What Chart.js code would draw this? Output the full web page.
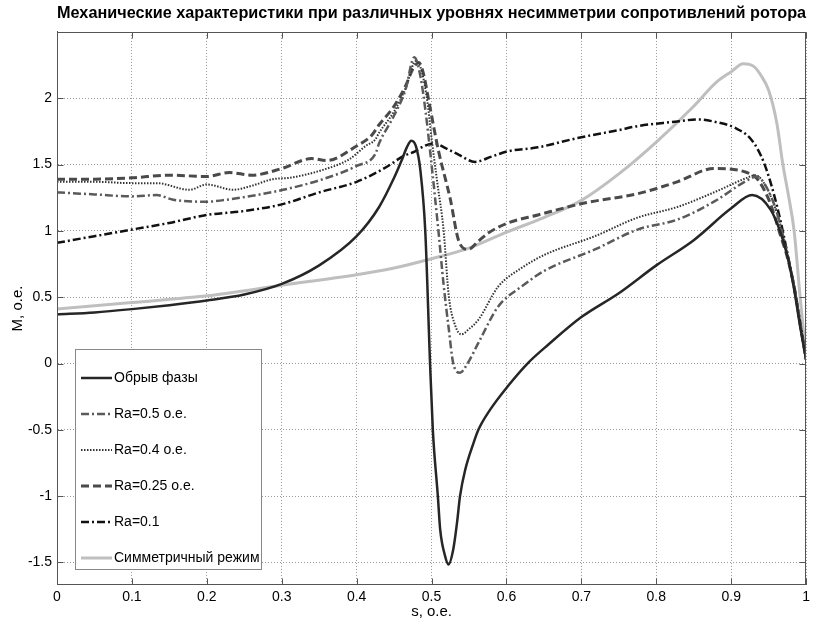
<!DOCTYPE html>
<html><head><meta charset="utf-8">
<script src="https://cdn.jsdelivr.net/npm/chart.js@4.4.0/dist/chart.umd.min.js"></script>
<style>html,body{margin:0;padding:0;background:#fff;}canvas{display:block;}</style>
</head><body>
<canvas id="c" width="814" height="621"></canvas>
<script>
// ---- data (s, o.e. -> M, o.e.) ----
const sBreak = [0,0.05,0.1,0.15,0.2,0.25,0.3,0.35,0.4,0.43,0.45,0.46,0.467,0.473,0.479,0.485,0.4916,0.498,0.5017,0.5084,0.5115,0.518,0.5226,0.529,0.534,0.538,0.545,0.556,0.5625,0.578,0.602,0.629,0.656,0.7,0.75,0.8,0.85,0.9,0.928,0.9526,0.966,0.975,0.984,0.992,1];
const mBreak = [0.37,0.385,0.41,0.44,0.475,0.52,0.6,0.74,0.96,1.18,1.40,1.53,1.63,1.68,1.64,1.46,1.0,0.0,-0.5,-1.0,-1.25,-1.45,-1.515,-1.4,-1.2,-1.0,-0.8,-0.6,-0.5,-0.35,-0.17,0.005,0.143,0.35,0.53,0.74,0.93,1.17,1.27,1.16,0.985,0.81,0.56,0.28,0.03];

const sRa05 = [0,0.05,0.1,0.133,0.155,0.2,0.22,0.266,0.31,0.355,0.4,0.425,0.43,0.45,0.465,0.477,0.485,0.492,0.5,0.509,0.516,0.523,0.529,0.538,0.548,0.5625,0.589,0.62,0.651,0.718,0.775,0.828,0.877,0.921,0.934,0.948,0.962,0.975,0.985,0.992,1];
const mRa05 = [1.29,1.275,1.26,1.27,1.235,1.22,1.23,1.27,1.32,1.39,1.49,1.58,1.66,1.87,2.06,2.31,2.17,1.9,1.5,1.01,0.6,0.26,0.0,-0.07,0.0,0.155,0.43,0.58,0.70,0.86,1.01,1.085,1.22,1.38,1.41,1.32,1.12,0.82,0.55,0.3,0.03];

const sRa04 = [0,0.05,0.1,0.133,0.177,0.2,0.235,0.26,0.288,0.31,0.355,0.39,0.412,0.425,0.43,0.45,0.465,0.479,0.487,0.495,0.5,0.508,0.516,0.523,0.532,0.54,0.55,0.5625,0.589,0.62,0.651,0.718,0.775,0.828,0.877,0.921,0.932,0.945,0.96,0.975,0.985,0.992,1];
const mRa04 = [1.37,1.37,1.36,1.36,1.31,1.35,1.31,1.34,1.39,1.40,1.46,1.54,1.64,1.69,1.74,1.9,2.07,2.28,2.2,1.95,1.7,1.35,1.01,0.51,0.28,0.22,0.26,0.33,0.58,0.72,0.82,0.96,1.10,1.18,1.29,1.40,1.42,1.35,1.15,0.82,0.56,0.3,0.03];

const sRa025 = [0,0.05,0.1,0.15,0.2,0.23,0.26,0.3,0.34,0.36,0.4,0.42,0.43,0.45,0.465,0.475,0.483,0.489,0.496,0.509,0.525,0.536,0.549,0.562,0.576,0.602,0.642,0.704,0.775,0.828,0.877,0.921,0.935,0.952,0.965,0.975,0.985,0.992,1];
const mRa025 = [1.39,1.39,1.40,1.42,1.41,1.44,1.42,1.47,1.545,1.53,1.64,1.72,1.80,1.94,2.09,2.22,2.27,2.19,1.99,1.61,1.24,0.93,0.86,0.92,0.985,1.06,1.12,1.21,1.28,1.37,1.47,1.44,1.39,1.21,0.98,0.8,0.55,0.3,0.03];

const sRa01 = [0,0.05,0.1,0.15,0.2,0.25,0.3,0.35,0.4,0.43,0.445,0.461,0.478,0.49,0.503,0.52,0.536,0.558,0.58,0.602,0.642,0.695,0.75,0.775,0.82,0.857,0.88,0.904,0.928,0.944,0.961,0.979,0.99,1];
const mRa01 = [0.91,0.96,1.01,1.06,1.12,1.15,1.2,1.29,1.37,1.45,1.5,1.56,1.6,1.64,1.66,1.62,1.575,1.52,1.56,1.6,1.63,1.7,1.76,1.79,1.82,1.84,1.82,1.78,1.68,1.51,1.19,0.72,0.38,0.03];

const sSym = [0,0.1,0.2,0.3,0.4,0.45,0.5,0.55,0.6,0.65,0.7,0.75,0.8,0.85,0.88,0.9,0.916,0.93,0.94,0.95,0.961,0.969,0.977,0.984,0.992,1];
const mSym = [0.41,0.46,0.51,0.59,0.67,0.72,0.79,0.87,0.99,1.1,1.23,1.43,1.67,1.94,2.12,2.2,2.26,2.24,2.17,2.06,1.81,1.5,1.25,1.0,0.5,0.05];

const seriesLabels = ['Обрыв фазы','Ra=0.5 о.е.','Ra=0.4 о.е.','Ra=0.25 о.е.','Ra=0.1','Симметричный режим'];
const xTicks = [0,0.1,0.2,0.3,0.4,0.5,0.6,0.7,0.8,0.9,1];
const yTicks = [-1.5,-1,-0.5,0,0.5,1,1.5,2];
const titleText = 'Механические характеристики при различных уровнях несимметрии сопротивлений ротора';
const xTitle = 's, о.е.';
const yTitle = 'M, о.е.';

// ---- styling ----
const FONT = "'Liberation Sans', Arial, sans-serif";
const AXIS = '#555';
function pts(s, m){ return s.map((v,i)=>({x:v, y:m[i]})); }
function ds(label, s, m, color, width, dash){
  return {label, data: pts(s,m), borderColor: color, borderWidth: width, borderDash: dash,
    pointRadius: 0, fill: false, cubicInterpolationMode: 'monotone', borderCapStyle: 'butt', borderJoinStyle: 'round'};
}
const datasets = [
  ds(seriesLabels[0], sBreak, mBreak, '#262626', 2.5, []),
  ds(seriesLabels[1], sRa05, mRa05, '#5a5a5a', 2.5, [8,3,2,3]),
  ds(seriesLabels[2], sRa04, mRa04, '#333333', 2, [1.5,1.5]),
  ds(seriesLabels[3], sRa025, mRa025, '#4a4a4a', 3, [8,4]),
  ds(seriesLabels[4], sRa01, mRa01, '#111111', 2.5, [8,3,2,3]),
  ds(seriesLabels[5], sSym, mSym, '#bfbfbf', 3, [])
];

const framePlugin = {
  id: 'frame',
  afterDraw(chart){
    const {ctx, chartArea: a, scales: {x, y}} = chart;
    ctx.save();
    ctx.setLineDash([]);
    ctx.strokeStyle = AXIS; ctx.lineWidth = 1;
    const L = Math.round(a.left)+0.5, R = Math.round(a.right)-0.5, T = Math.round(a.top)+0.5, B = Math.round(a.bottom)-0.5;
    ctx.strokeRect(L, T, R-L, B-T);
    const tl = 6;
    ctx.beginPath();
    xTicks.forEach(v => { const p = Math.round(x.getPixelForValue(v))+0.5; ctx.moveTo(p,B); ctx.lineTo(p,B-tl); ctx.moveTo(p,T); ctx.lineTo(p,T+tl); });
    yTicks.forEach(v => { const p = Math.round(y.getPixelForValue(v))+0.5; ctx.moveTo(L,p); ctx.lineTo(L+tl,p); ctx.moveTo(R,p); ctx.lineTo(R-tl,p); });
    ctx.stroke();
    // legend
    const lx = 75.5, ly = 349.5, lw = 186, lh = 220;
    ctx.fillStyle = '#fff';
    ctx.fillRect(lx, ly, lw, lh);
    ctx.strokeStyle = '#888'; ctx.lineWidth = 1;
    ctx.strokeRect(lx, ly, lw, lh);
    ctx.font = '14px ' + FONT;
    ctx.textBaseline = 'middle'; ctx.textAlign = 'left';
    chart.data.datasets.forEach((d, i) => {
      const yy = 378 + i*36;
      ctx.save();
      ctx.strokeStyle = d.borderColor; ctx.lineWidth = d.borderWidth; ctx.setLineDash(d.borderDash || []);
      ctx.lineCap = 'butt';
      ctx.beginPath(); ctx.moveTo(81, yy); ctx.lineTo(112, yy); ctx.stroke();
      ctx.restore();
      ctx.fillStyle = '#000';
      ctx.fillText(d.label, 114, yy);
    });
    ctx.restore();
  }
};

new Chart(document.getElementById('c'), {
  type: 'line',
  data: { datasets },
  plugins: [framePlugin],
  options: {
    responsive: false, animation: false, devicePixelRatio: 1,
    layout: { padding: { left: 0, right: 5, top: 0, bottom: 0 } },
    plugins: {
      legend: { display: false },
      tooltip: { enabled: false },
      title: { display: true, text: titleText, fullSize: false, color: '#000',
        font: { family: FONT, size: 16.3, weight: 'bold', lineHeight: 1.1 }, padding: { top: 5, bottom: 9 } }
    },
    scales: {
      x: {
        type: 'linear', min: 0, max: 1,
        afterBuildTicks: s => { s.ticks = xTicks.map(v => ({value: v})); },
        afterFit: s => { s.height = 36; },
        ticks: { color: '#000', padding: 4, maxRotation: 0, font: { family: FONT, size: 14 },
          callback: v => String(Math.round(v*10)/10) },
        grid: { color: '#999', lineWidth: 1, drawTicks: false },
        border: { color: AXIS, width: 1, dash: [1,2] },
        title: { display: true, text: xTitle, color: '#000', font: { family: FONT, size: 15 }, padding: { top: 5, bottom: 0 } }
      },
      y: {
        type: 'linear', min: -1.67, max: 2.5,
        afterBuildTicks: s => { s.ticks = yTicks.map(v => ({value: v})); },
        afterFit: s => { s.width = 57; },
        ticks: { color: '#000', padding: 5, font: { family: FONT, size: 14 },
          callback: v => String(Math.round(v*10)/10) },
        grid: { color: '#999', lineWidth: 1, drawTicks: false },
        border: { color: AXIS, width: 1, dash: [1,2] },
        title: { display: true, text: yTitle, color: '#000', font: { family: FONT, size: 15 }, padding: { top: 9, bottom: 0 } }
      }
    }
  }
});
</script>
</body></html>
